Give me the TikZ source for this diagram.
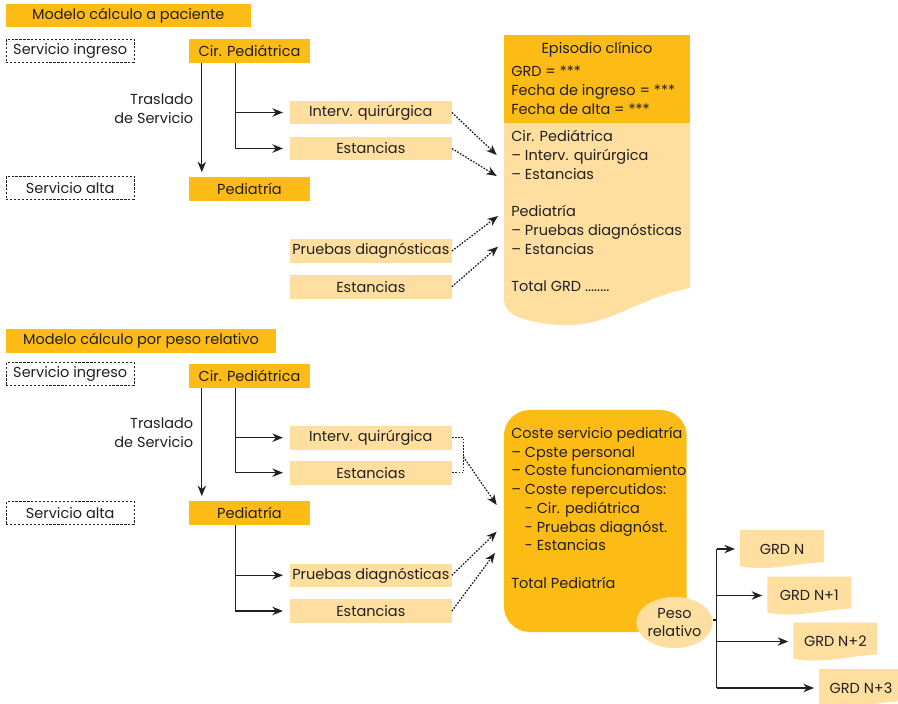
\documentclass[tikz,border=0pt]{standalone}
\usepackage{fontspec}
\setmainfont{Poppins}
\usetikzlibrary{arrows.meta,calc,shapes.geometric}
\definecolor{pedorange}{RGB}{252,187,21}
\definecolor{pedlight}{RGB}{254,223,160}
\definecolor{ink}{RGB}{35,31,32}
\begin{document}
\begin{tikzpicture}[
    x=0.025cm, y=-0.025cm,
    every node/.style={font=\fontsize{10.3}{13.3}\selectfont, text=ink, inner sep=0pt},
    modelo/.style={fill=pedorange, minimum height=0.58cm},
    servicio/.style={draw=ink, line width=0.6pt, dash pattern=on 1.6pt off 1.2pt, minimum width=3.2cm, minimum height=0.58cm},
    unidad/.style={fill=pedorange, minimum width=3.02cm, minimum height=0.59cm},
    prest/.style={fill=pedlight, minimum width=4.04cm, minimum height=0.59cm},
    texto/.style={align=left, anchor=north west},
    grd/.style={minimum width=2.1cm, minimum height=0.95cm},
    flow/.style={-{Stealth[length=7.5pt,width=6pt]}, line width=0.95pt, draw=ink},
    link/.style={line width=0.95pt, draw=ink},
    dots/.style={line width=0.9pt, draw=ink, dash pattern=on 1.2pt off 1pt},
    dotflow/.style={dots, -{Stealth[length=7.5pt,width=6pt]}},
]
\useasboundingbox (0,0) rectangle (898,703);

% --- modelo calculo a paciente ---
\node[modelo, minimum width=6.11cm] (m1) at (128.3,15.6) {Modelo cálculo a paciente};
\node[servicio] (ing1) at (70.2,50.6) {Servicio ingreso};
\node[servicio] (alt1) at (70.2,187.7) {Servicio alta};
\node[unidad] (cir1) at (249.5,51) {Cir. Pediátrica};
\node[unidad] (ped1) at (249.5,188.8) {Pediatría};
\node[prest] (int1) at (370.8,112.5) {Interv. quirúrgica};
\node[prest] (est1) at (370.8,148.5) {Estancias};
\node[prest] (pru1) at (370.8,251) {Pruebas diagnósticas};
\node[prest] (est1b) at (370.8,286.7) {Estancias};
\node[align=right, anchor=north east] (tr1) at (193.5,91) {\strut Traslado\\de Servicio};

% episodio clinico
\fill[pedlight] (504,122) -- (690,122) -- (690,288) .. controls (630,300) and (605,332) .. (548,324) .. controls (520,320) and (504,314) .. (504,300) -- cycle;
\fill[pedorange] (504,35) rectangle (690,122.7);
\node[anchor=base] (epi) at (597,54) {Episodio clínico};
\node[texto] (epigrd) at (511,63.6) {\strut GRD = ***\\Fecha de ingreso = ***\\Fecha de alta = ***};
\node[texto] (epilst) at (511,128.6) {\strut Cir. Pediátrica\\– Interv. quirúrgica\\– Estancias\\[13.3pt]Pediatría\\– Pruebas diagnósticas\\– Estancias\\[13.3pt]Total GRD ........};

\draw[flow] ($(cir1.south west)+(13,0)$) -- ($(ped1.north west)+(13,-4.5)$);
\draw[flow] ($(cir1.south west)+(47,0)$) |- ([xshift=-0.17cm]int1.west);
\draw[flow] ($(cir1.south west)+(47,0)$) |- ([xshift=-0.17cm]est1.west);

\coordinate (a1) at (496.7,155);
\coordinate (a2) at (496.7,176);
\coordinate (a3) at (498,216);
\coordinate (a4) at (498,246.7);
\draw[dotflow] (int1.east) -- (a1);
\draw[dotflow] (est1.east) -- (a2);
\draw[dotflow] (pru1.east) -- (a3);
\draw[dotflow] (est1b.east) -- (a4);

% --- modelo calculo por peso relativo ---
\node[modelo, minimum width=6.75cm] (m2) at (141,341) {Modelo cálculo por peso relativo};
\node[servicio] (ing2) at (70.2,374) {Servicio ingreso};
\node[servicio] (alt2) at (70.2,513) {Servicio alta};
\node[unidad] (cir2) at (249.5,375.8) {Cir. Pediátrica};
\node[unidad] (ped2) at (249.5,512.7) {Pediatría};
\node[prest] (int2) at (370.8,437.7) {Interv. quirúrgica};
\node[prest] (est2) at (370.8,472.7) {Estancias};
\node[prest] (pru2) at (370.8,575.3) {Pruebas diagnósticas};
\node[prest] (est2b) at (370.8,611) {Estancias};
\node[align=right, anchor=north east] (tr2) at (193.5,415) {\strut Traslado\\de Servicio};

\draw[flow] ($(cir2.south west)+(13,0)$) -- ($(ped2.north west)+(13,-4.5)$);
\draw[flow] ($(cir2.south west)+(47,0)$) |- ([xshift=-0.17cm]int2.west);
\draw[flow] ($(cir2.south west)+(47,0)$) |- ([xshift=-0.17cm]est2.west);
\draw[flow] ($(ped2.south west)+(47,0)$) |- ([xshift=-0.17cm]pru2.west);
\draw[flow] ($(ped2.south west)+(47,0)$) |- ([xshift=-0.17cm]est2b.west);

% coste servicio
\node[fill=pedorange, rounded corners=0.65cm, minimum width=4.57cm, minimum height=5.55cm] (coste) at (595.3,521) {};
\node[texto] (costelst) at (511,425.2) {\strut Coste servicio pediatría\\– Cpste personal\\– Coste funcionamiento\\– Coste repercutidos:\\\hphantom{– }- Cir. pediátrica\\\hphantom{– }- Pruebas diagnóst.\\\hphantom{– }- Estancias\\[13.3pt]Total Pediatría};
\node[ellipse, fill=pedlight, minimum width=1.83cm, minimum height=1.28cm, align=center] (peso) at (674.5,622.5) {Peso\\relativo};

\coordinate (j2) at (463.3,456.7);
\coordinate (b1) at (496.7,505);
\coordinate (b2) at (496.7,531.7);
\coordinate (b3) at (495,553);
\draw[dots] (int2.east) -| (j2 |- est2.east) -- (est2.east);
\draw[dotflow] (j2) -- (b1);
\draw[dotflow] (pru2.east) -- (b2);
\draw[dotflow] (est2b.east) -- (b3);

% GRD
\foreach \n/\cx/\cy/\lbl in {0/782/549/GRD N, 1/809.3/595.5/GRD N+1, 2/835.3/641.5/GRD N+2, 3/861/688/GRD N+3} {
  \fill[pedlight] ($(\cx,\cy)+(-42,-19)$) -- ($(\cx,\cy)+(42,-19)$) -- ($(\cx,\cy)+(42,13)$) .. controls ($(\cx,\cy)+(15,14)$) and ($(\cx,\cy)+(-15,23)$) .. ($(\cx,\cy)+(-42,17)$) -- cycle;
  \node[grd] (g\n) at (\cx,\cy) {\lbl};
}
\coordinate (pb) at (716.7,620);
\draw[link] (peso.east |- pb) -- (pb);
\draw[link] (pb |- g0.west) -- (pb |- g3.west);
\foreach \n in {0,...,3}
  \draw[flow] (pb |- g\n.west) -- ([xshift=-0.12cm]g\n.west);
\end{tikzpicture}
\end{document}
